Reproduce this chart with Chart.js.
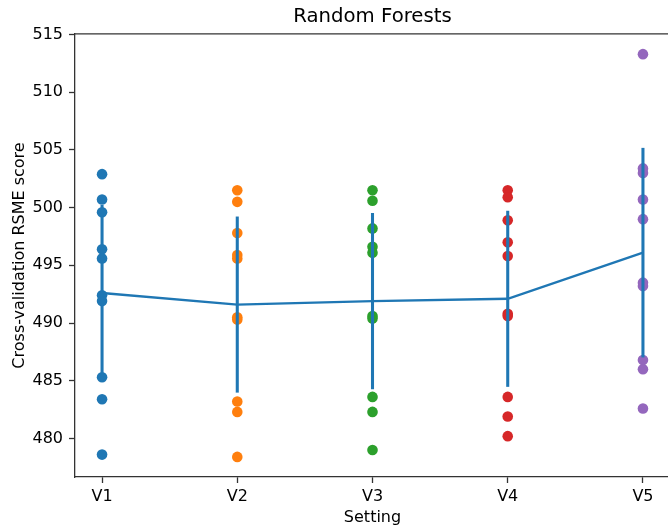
<!DOCTYPE html>
<html>
<head>
<meta charset="utf-8">
<script src="https://cdn.jsdelivr.net/npm/chart.js@4/dist/chart.umd.min.js"></script>
<style>
  html, body { margin: 0; padding: 0; overflow: hidden; background: #fff; }
  #wrap { width: 671px; height: 531px; }
</style>
</head>
<body>
<div id="wrap"><canvas id="myChart" width="671" height="531"></canvas></div>
<script>
  "use strict";

  // Settings on the x axis and the tick labels
  const settings = ["V1", "V2", "V3", "V4", "V5"];
  const xTicks = [0, 1, 2, 3, 4];
  const yTicks = [480, 485, 490, 495, 500, 505, 510, 515];

  // Cross-validation scores per setting
  const scoresV1 = [502.9, 500.7, 499.6, 496.4, 495.6, 492.4, 491.9, 485.3, 483.4, 478.6];
  const scoresV2 = [501.5, 500.5, 497.8, 495.9, 495.6, 490.5, 490.3, 483.2, 482.3, 478.4];
  const scoresV3 = [501.5, 500.6, 498.2, 496.6, 496.1, 490.6, 490.4, 483.6, 482.3, 479.0];
  const scoresV4 = [501.5, 500.9, 498.9, 497.0, 495.8, 490.8, 490.6, 483.6, 481.9, 480.2];
  const scoresV5 = [513.3, 503.4, 503.0, 500.7, 499.0, 493.5, 493.2, 486.8, 486.0, 482.6];

  // Mean line and error bar half-heights
  const meanScores = [492.6, 491.6, 491.9, 492.1, 496.1];
  const stdScores = [7.6, 7.6, 7.6, 7.6, 9.05];

  const allScores = [scoresV1, scoresV2, scoresV3, scoresV4, scoresV5];
  const colors = ["#1f77b4", "#ff7f0e", "#2ca02c", "#d62728", "#9467bd"];
  const lineColor = "#1f77b4";
  const fontFamily = "'DejaVu Sans', sans-serif";

  /* top spine, chart.js has no box border (right one falls outside the window) */
  const topSpine = {
    id: "topSpine",
    afterDraw(chart) {
      const { ctx, chartArea } = chart;
      ctx.save();
      ctx.strokeStyle = "#333";
      ctx.lineWidth = 1.3;
      ctx.beginPath();
      ctx.moveTo(chartArea.left, chartArea.top);
      ctx.lineTo(chartArea.right, chartArea.top);
      ctx.stroke();
      ctx.restore();
    },
  };

  const scatterSets = allScores.map((scores, i) => ({
    type: "scatter",
    label: settings[i],
    data: scores.map((v) => ({ x: xTicks[i], y: v })),
    backgroundColor: colors[i],
    borderWidth: 0,
    pointRadius: 5.3,
    order: 2,
  }));

  const ctx = document.getElementById("myChart").getContext("2d");
  const chart = new Chart(ctx, {
    type: "scatter",
    data: {
      datasets: [
        {
          // error bars, drawn over the points
          type: "bar",
          label: "std",
          data: meanScores.map((m, i) => ({ x: xTicks[i], y: [m - stdScores[i], m + stdScores[i]] })),
          backgroundColor: lineColor,
          borderWidth: 0,
          barThickness: 2.4,
          grouped: false,
          order: 0,
        },
        {
          type: "line",
          label: "mean",
          data: meanScores.map((m, i) => ({ x: xTicks[i], y: m })),
          borderColor: lineColor,
          borderWidth: 2.4,
          pointRadius: 0,
          tension: 0,
          fill: false,
          order: 1,
        },
        ...scatterSets,
      ],
    },
    options: {
      responsive: false,
      animation: false,
      devicePixelRatio: 1,
      layout: { autoPadding: false, padding: { left: 0, right: 1, top: 0, bottom: 0 } },
      plugins: {
        legend: { display: false },
        tooltip: { enabled: false },
        title: {
          display: true,
          fullSize: false, // center over the plot area like matplotlib
          text: "Random Forests",
          color: "#000",
          font: { family: fontFamily, size: 19.7, weight: "normal", lineHeight: 1.2 },
          padding: { top: 5, bottom: 5.3 },
        },
      },
      scales: {
        x: {
          type: "linear",
          offset: false,
          min: -0.2,
          max: 4.2,
          afterBuildTicks: (scale) => {
            scale.ticks = xTicks.map((v) => ({ value: v }));
          },
          afterFit: (scale) => {
            scale.height = 54;
            scale.paddingLeft = 0;
            scale.paddingRight = 0;
          },
          ticks: {
            color: "#000",
            font: { family: fontFamily, size: 16 },
            padding: 4,
            maxRotation: 0,
            callback: (v) => settings[v],
          },
          grid: {
            offset: false,
            drawOnChartArea: false,
            drawTicks: true,
            tickLength: 6,
            tickColor: "#333",
            tickWidth: 1.3,
          },
          border: { display: true, color: "#333", width: 1.3 },
          title: {
            display: true,
            text: "Setting",
            color: "#000",
            font: { family: fontFamily, size: 16, lineHeight: 1.2 },
            padding: { top: 0, bottom: 4 },
          },
        },
        y: {
          min: 476.66,
          max: 515.05,
          afterBuildTicks: (scale) => {
            scale.ticks = yTicks.map((v) => ({ value: v }));
          },
          afterFit: (scale) => {
            scale.width = 75;
          },
          ticks: {
            color: "#000",
            font: { family: fontFamily, size: 16 },
            padding: 6,
          },
          grid: {
            drawOnChartArea: false,
            drawTicks: true,
            tickLength: 6,
            tickColor: "#333",
            tickWidth: 1.3,
          },
          border: { display: true, color: "#333", width: 1.3 },
          title: {
            display: true,
            text: "Cross-validation RSME score",
            color: "#000",
            font: { family: fontFamily, size: 16, lineHeight: 1.2 },
            padding: { top: 10, bottom: 0 },
          },
        },
      },
    },
    plugins: [topSpine],
  });
</script>
</body>
</html>
